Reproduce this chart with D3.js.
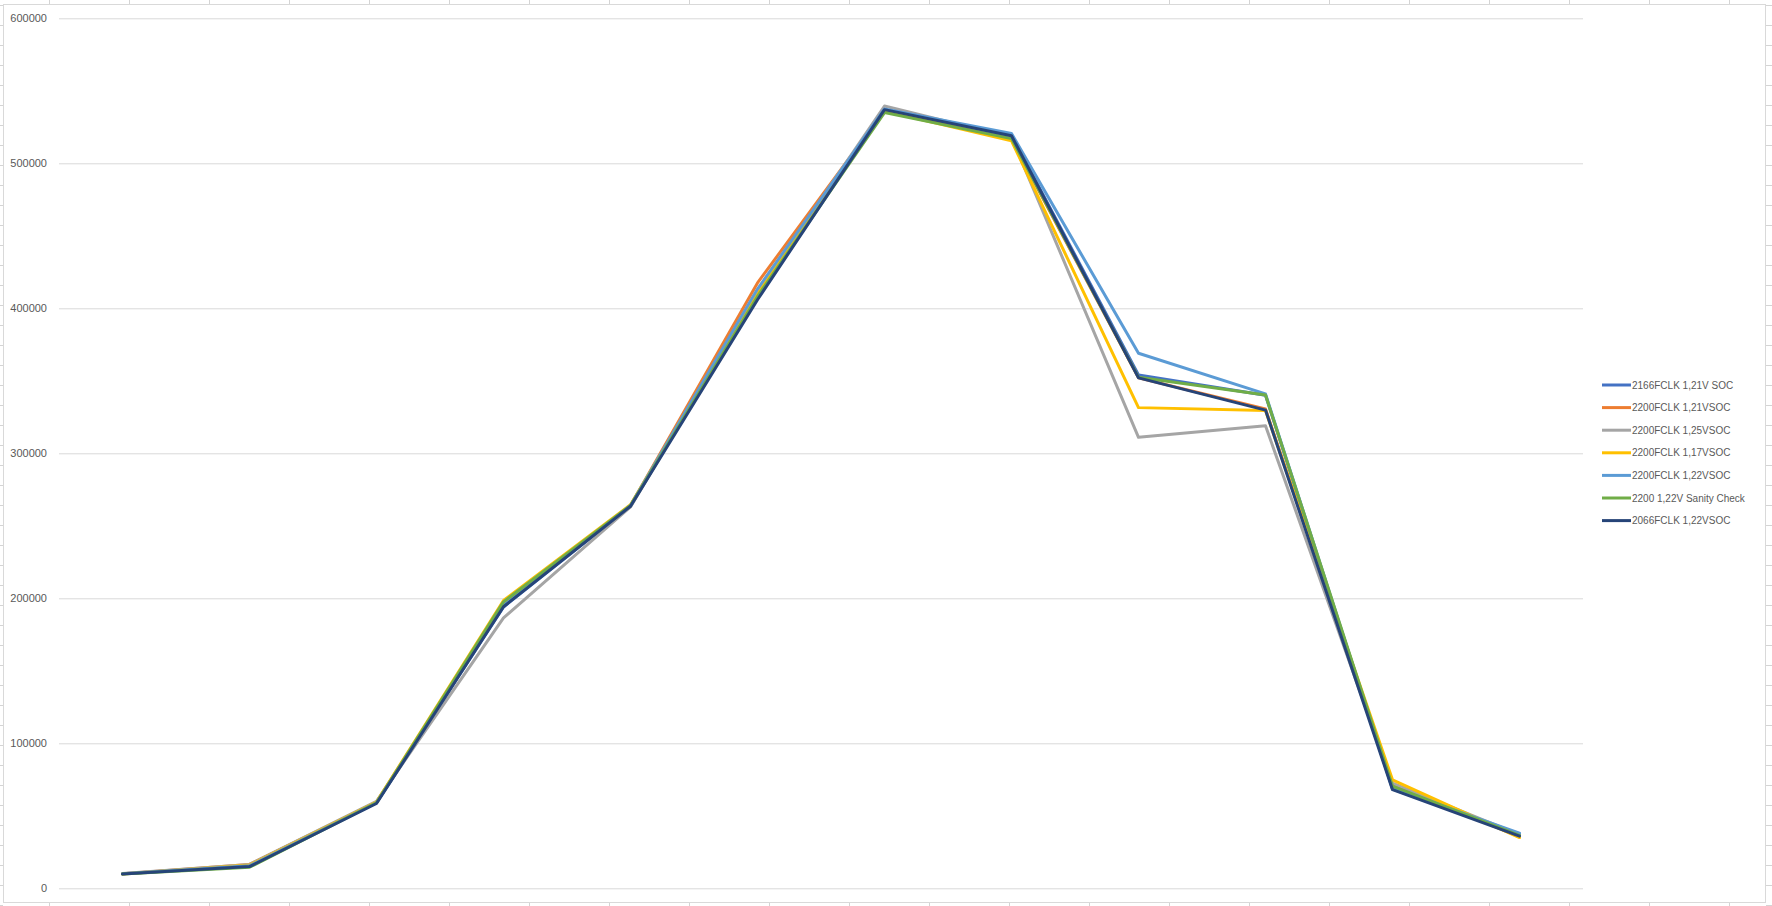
<!DOCTYPE html>
<html>
<head>
<meta charset="utf-8">
<script src="https://cdn.jsdelivr.net/npm/d3@7"></script>
<style>
  html, body { margin: 0; padding: 0; background: #ffffff; }
  svg { display: block; }
  text { font-family: "Liberation Sans", Arial, sans-serif; fill: #595959; }
</style>
</head>
<body>
<svg id="chart" width="1772" height="906"></svg>
<script>
// ---- data ----
const categories = [1, 2, 3, 4, 5, 6, 7, 8, 9, 10, 11, 12];
const seriesNames = [
  "2166FCLK 1,21V SOC",
  "2200FCLK 1,21VSOC",
  "2200FCLK 1,25VSOC",
  "2200FCLK 1,17VSOC",
  "2200FCLK 1,22VSOC",
  "2200 1,22V Sanity Check",
  "2066FCLK 1,22VSOC"
];
const s2166_121 = [10000, 15500, 59000, 194000, 263500, 410700, 537000, 519500, 354000, 340000, 68500, 37500];
const s2200_121 = [10000, 16500, 59500, 196000, 264000, 417500, 536500, 516500, 352000, 330500, 72000, 35500];
const s2200_125 = [10200, 16500, 60000, 186500, 263000, 411000, 539500, 518000, 311000, 319000, 72500, 37000];
const s2200_117 = [9800, 16000, 59500, 198500, 264500, 410000, 536000, 515500, 331500, 329500, 74800, 35000];
const s2200_122 = [10000, 15500, 59000, 195000, 264000, 413300, 537500, 520500, 369000, 341000, 69000, 38000];
const sSanity   = [9900, 14500, 59000, 197500, 264000, 408200, 535000, 517000, 352500, 340200, 70500, 36500];
const s2066_122 = [9800, 15000, 58500, 194200, 263500, 405900, 537000, 519000, 352000, 329800, 68000, 36000];
const yTicks = [0, 100000, 200000, 300000, 400000, 500000, 600000];
const colors = ["#4472C4", "#ED7D31", "#A5A5A5", "#FFC000", "#5B9BD5", "#70AD47", "#264478"];
const seriesValues = [s2166_121, s2200_121, s2200_125, s2200_117, s2200_122, sSanity, s2066_122];

// ---- drawing ----
const svg = d3.select("#chart");
const W = 1772, H = 906;

// spreadsheet grid background (decoration around chart object)
const grid = svg.append("g").attr("stroke", "#d4d4d4").attr("stroke-width", 1);
for (let x = 49.5; x < W; x += 80) {
  grid.append("line").attr("x1", x).attr("x2", x).attr("y1", 0).attr("y2", 4);
  grid.append("line").attr("x1", x).attr("x2", x).attr("y1", 903).attr("y2", H);
}
for (let y = 5.5; y < H; y += 20) {
  grid.append("line").attr("x1", 0).attr("x2", 3).attr("y1", y).attr("y2", y);
  grid.append("line").attr("x1", 1766).attr("x2", W).attr("y1", y).attr("y2", y);
}

// chart area
svg.append("rect")
  .attr("x", 3.5).attr("y", 4.5)
  .attr("width", 1762).attr("height", 898)
  .attr("fill", "#ffffff").attr("stroke", "#d9d9d9").attr("stroke-width", 1);

const plot = { left: 59, right: 1583, top: 18.3, bottom: 888.3 };

const x = d3.scalePoint()
  .domain(categories)
  .range([plot.left, plot.right])
  .padding(0.5);

const y = d3.scaleLinear()
  .domain([0, 600000])
  .range([plot.bottom, plot.top]);

// gridlines + labels
const yAxis = d3.axisLeft(y)
  .tickValues(yTicks)
  .tickSize(-(plot.right - plot.left))
  .tickPadding(12)
  .tickFormat(d3.format("d"));

const gAxis = svg.append("g")
  .attr("transform", `translate(${plot.left},0)`)
  .call(yAxis);
gAxis.select(".domain").remove();
gAxis.selectAll(".tick line").attr("stroke", "#d9d9d9").attr("stroke-width", 1);
gAxis.selectAll(".tick text")
  .attr("fill", "#595959")
  .style("font-size", "11px")
  .style("font-family", "'Liberation Sans', Arial, sans-serif");

// lines
const line = d3.line()
  .x((d, i) => x(categories[i]))
  .y(d => y(d));

const gLines = svg.append("g");
seriesValues.forEach((vals, si) => {
  gLines.append("path")
    .datum(vals)
    .attr("d", line)
    .attr("fill", "none")
    .attr("stroke", colors[si])
    .attr("stroke-width", 3)
    .attr("stroke-linejoin", "round")
    .attr("stroke-linecap", "round");
});

// legend
const legend = svg.append("g").attr("transform", "translate(1602,385)");
seriesNames.forEach((name, i) => {
  const g = legend.append("g").attr("transform", `translate(0,${i * 22.6})`);
  g.append("line")
    .attr("x1", 0).attr("x2", 29)
    .attr("y1", 0).attr("y2", 0)
    .attr("stroke", colors[i]).attr("stroke-width", 3);
  g.append("text")
    .attr("x", 30).attr("y", 0)
    .attr("dy", "0.35em")
    .style("font-size", "10px")
    .text(name);
});
</script>
</body>
</html>
